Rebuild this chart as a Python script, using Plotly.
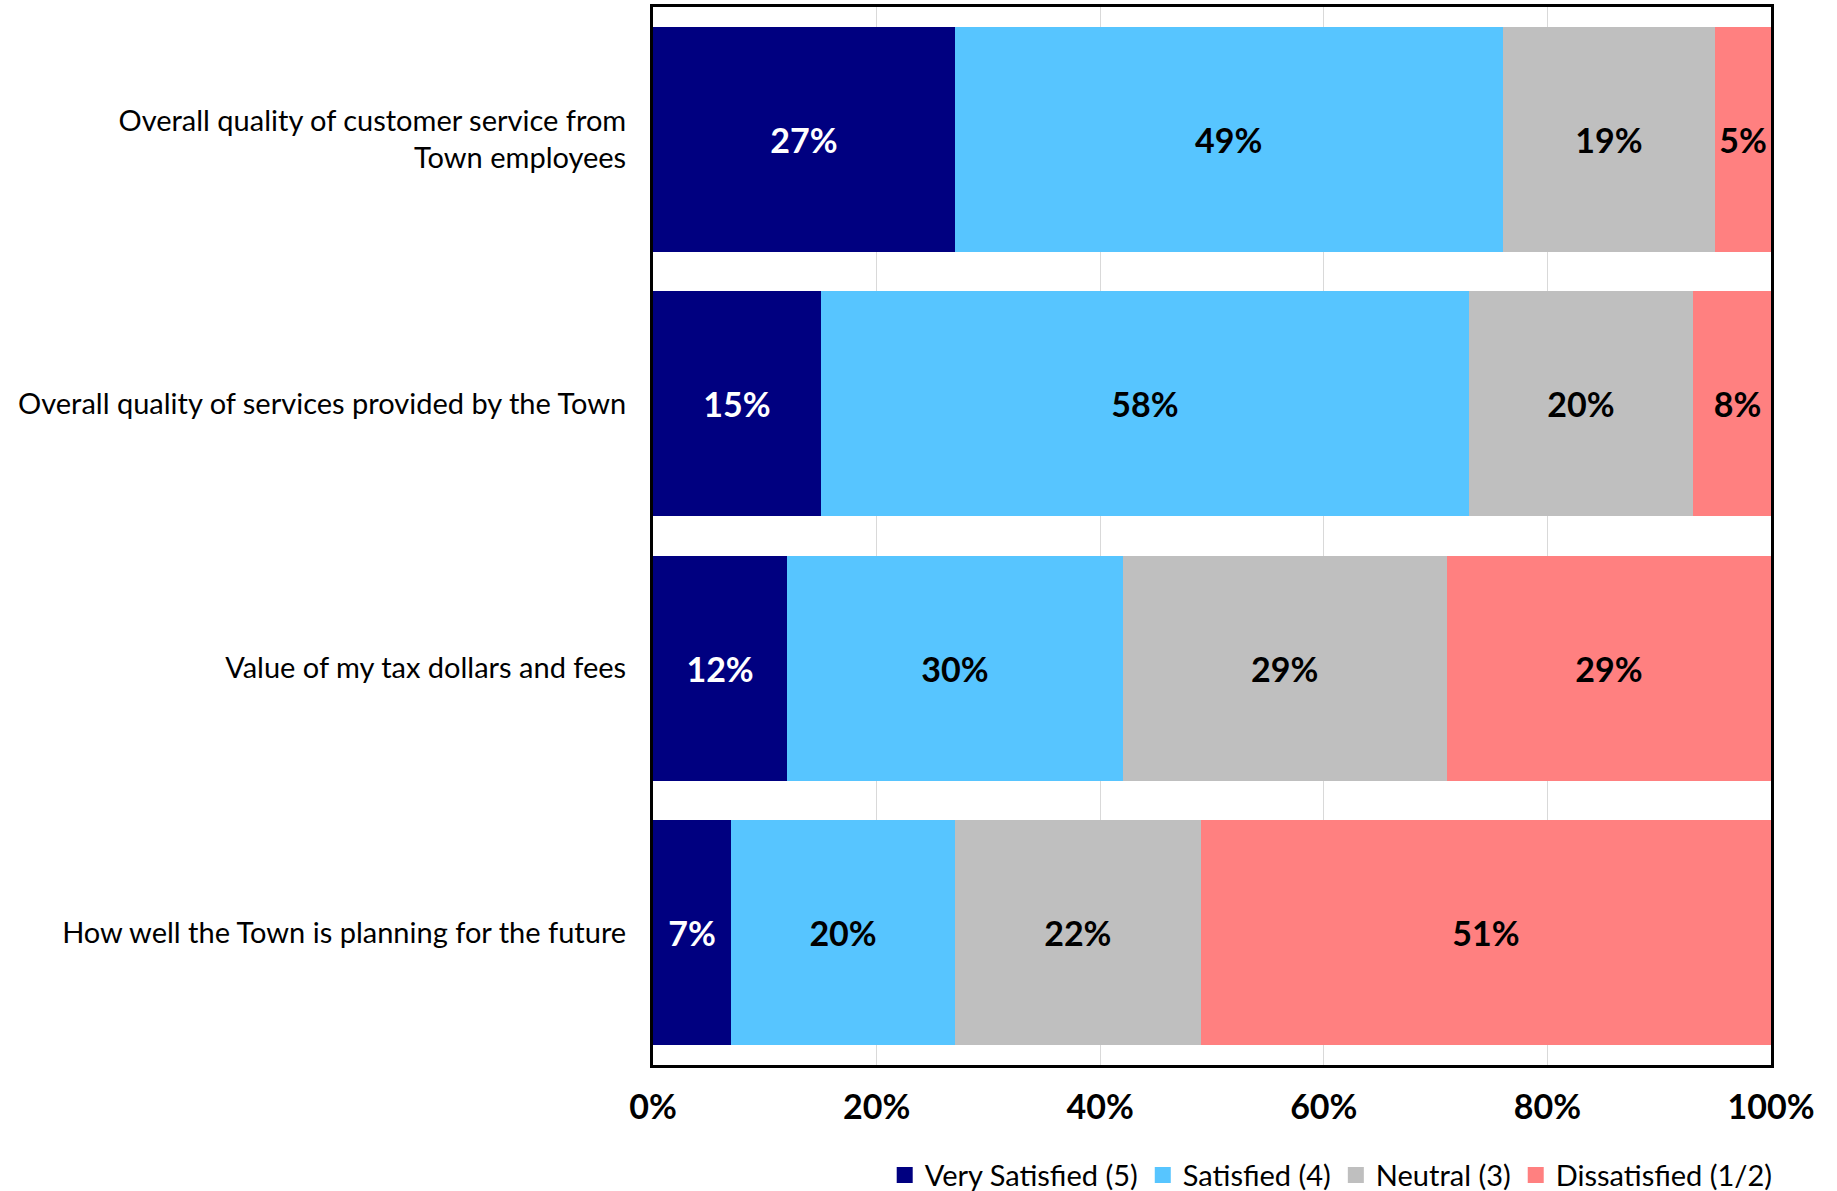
import plotly.graph_objects as go

# Survey items (top to bottom) and share of responses per rating
items = [
    "Overall quality of customer service from<br>Town employees",
    "Overall quality of services provided by the Town",
    "Value of my tax dollars and fees",
    "How well the Town is planning for the future",
]
very_satisfied = [27, 15, 12, 7]
satisfied = [49, 58, 30, 20]
neutral = [19, 20, 29, 22]
dissatisfied = [5, 8, 29, 51]

series_names = ["Very Satisfied (5)", "Satisfied (4)", "Neutral (3)", "Dissatisfied (1/2)"]
tick_values = [0, 20, 40, 60, 80, 100]
tick_labels = ["0%", "20%", "40%", "60%", "80%", "100%"]

series = [very_satisfied, satisfied, neutral, dissatisfied]
colors = ["#000080", "#57C5FF", "#BFBFBF", "#FF8080"]
label_colors = ["white", "black", "black", "black"]

FONT = "Lato"

fig = go.Figure()
for name, vals, col, lc in zip(series_names, series, colors, label_colors):
    fig.add_trace(go.Bar(
        y=items, x=vals, name=name, orientation="h",
        marker=dict(color=col, line=dict(width=0)),
        text=[f"{v}%" for v in vals],
        textposition="inside", insidetextanchor="middle",
        textangle=0, constraintext="none",
        textfont=dict(family=FONT, size=34, color=lc, weight="bold"),
        showlegend=False, hoverinfo="skip",
    ))
    # square swatch for the legend
    fig.add_trace(go.Scatter(
        x=[None], y=[None], mode="markers", name=name,
        marker=dict(symbol="square", size=16, color=col),
    ))

fig.update_layout(
    width=1837, height=1191,
    margin=dict(l=653, r=66, t=7, b=126, autoexpand=False),
    barmode="stack", bargap=0.149,
    plot_bgcolor="white", paper_bgcolor="white",
    font=dict(family=FONT, color="black"),
    legend=dict(
        orientation="h", traceorder="normal",
        x=1.006, xanchor="right", y=-0.08, yanchor="top",
        font=dict(family=FONT, size=29, color="black"),
        itemwidth=30, tracegroupgap=0,
    ),
)
fig.update_xaxes(
    range=[0, 100], tickvals=tick_values, ticktext=tick_labels,
    tickfont=dict(family=FONT, size=34, color="black", weight="bold"),
    showgrid=True, gridcolor="#D9D9D9", gridwidth=1,
    zeroline=False, showline=True, linecolor="black", linewidth=3, mirror=True,
    ticks="", ticklabelstandoff=10, automargin=False,
)
fig.update_yaxes(
    categoryorder="array", categoryarray=items, autorange="reversed",
    tickfont=dict(family=FONT, size=29, color="black"),
    showline=True, linecolor="black", linewidth=3, mirror=True,
    ticks="", ticklabelstandoff=18, automargin=False,
)

fig.write_html("out.html")
